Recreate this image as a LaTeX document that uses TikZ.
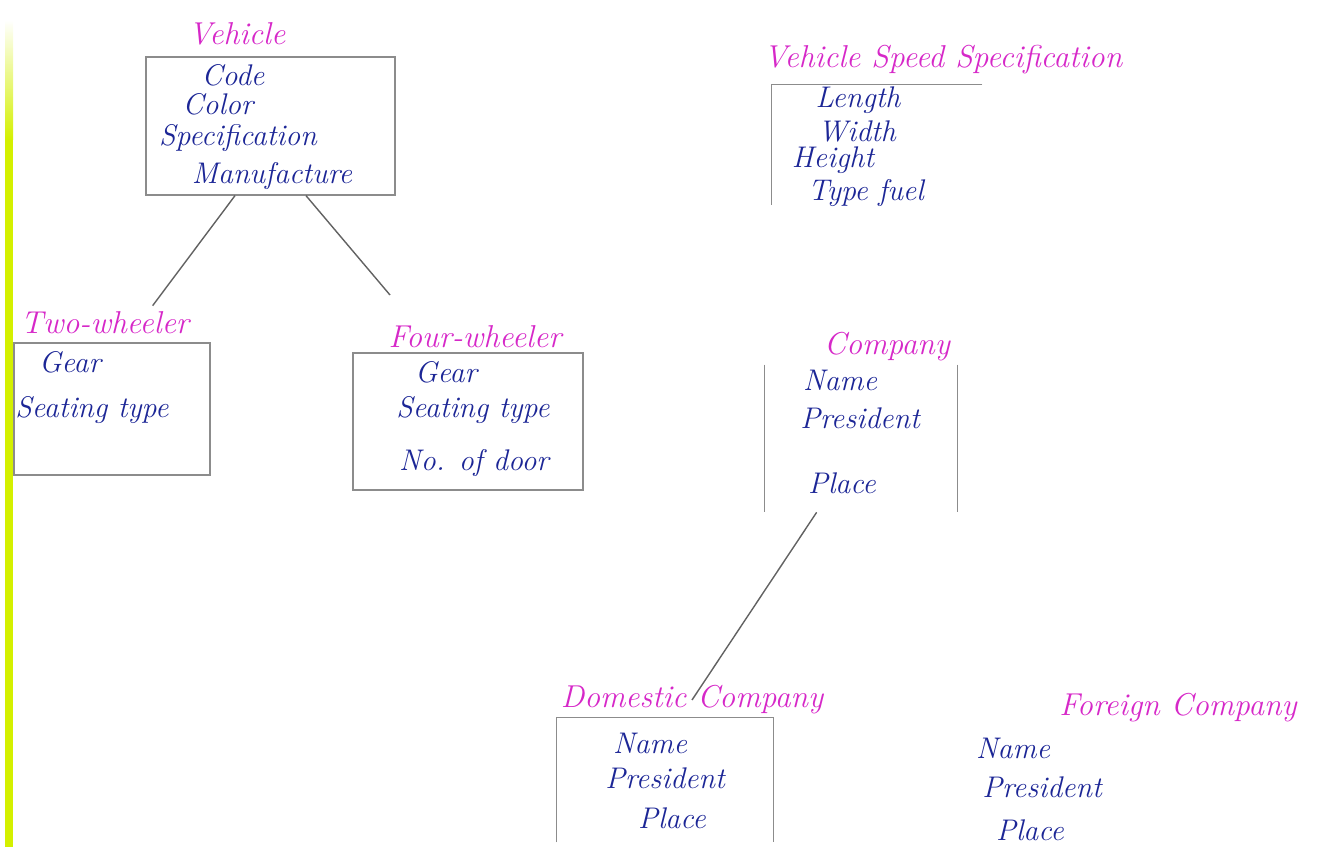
\documentclass[tikz,border=0pt]{standalone}
\usepackage{xcolor}
\definecolor{penpink}{RGB}{214,40,200}
\definecolor{penblue}{RGB}{28,38,150}
\definecolor{pencil}{RGB}{140,140,140}
\definecolor{hilite}{RGB}{212,240,0}
\begin{document}
\begin{tikzpicture}[x=0.02cm, y=-0.02cm, font=\fontsize{17}{19}\selectfont\itshape,
  title/.style={text=penpink, font=\fontsize{18}{20}\selectfont\itshape},
  attr/.style={text=penblue},
  frame/.style={draw=pencil, line width=0.7pt, inner sep=0pt},
  bare/.style={inner sep=0pt},
  edge/.style={draw=pencil!70!black, line width=0.8pt}]
  \useasboundingbox (0,0) rectangle (1322,847);
  % marker stripe on the page edge
  \shade[top color=white, bottom color=hilite] (5,20) rectangle (13,140);
  \fill[hilite] (5,140) rectangle (13,847);

  % Vehicle
  \node[title] (vehT) at (237,34) {Vehicle};
  \node[frame, minimum width=4.98cm, minimum height=2.76cm] (veh) at (270.5,126) {};
  \foreach \n/\x/\y/\t in {1/233/75/Code, 2/218/104/Color,
      3/238/138/Specification, 4/272/176/Manufacture}
    \node[attr] (veh-\n) at (\x,\y) {\t};

  % Two-wheeler
  \node[title] (twoT) at (105,323) {Two-wheeler};
  \node[frame, minimum width=3.92cm, minimum height=2.64cm] (two) at (112,409) {};
  \node[attr] (two-1) at (70,362) {Gear};
  \node[attr] (two-2) at (92,410) {Seating type};

  % Four-wheeler
  \node[title] (fourT) at (475,337) {Four-wheeler};
  \node[frame, minimum width=4.6cm, minimum height=2.74cm] (four) at (468,421.5) {};
  \node[attr] (four-1) at (446,372) {Gear};
  \node[attr] (four-2) at (473,410) {Seating type};
  \node[attr] (four-3) at (474,463) {No. of door};
  \coordinate (fourTip) at (390,295);

  \draw[edge] (veh.243) -- (twoT.20);
  \draw[edge] (veh.297) -- (fourTip);

  % Vehicle Speed Specification
  \node[title] (specT) at (943,60) {Vehicle Speed Specification};
  \node[bare, minimum width=4.2cm, minimum height=2.4cm] (spec) at (877,145) {};
  \draw[frame] (spec.north east) -- (spec.north west) -- (spec.south west);
  \foreach \n/\x/\y/\t in {1/858/100/Length, 2/857/131/Width,
      3/833/160/Height, 4/866/193/Type fuel}
    \node[attr] (spec-\n) at (\x,\y) {\t};

  % Company
  \node[title] (compT) at (887,347) {Company};
  \node[bare, minimum width=3.84cm, minimum height=2.94cm] (comp) at (861,438.5) {};
  \draw[frame] (comp.north west) -- (comp.south west);
  \draw[frame] (comp.north east) -- (comp.south east);
  \foreach \n/\x/\y/\t in {1/840/380/Name, 2/860/418/President, 3/842/483/Place}
    \node[attr] (comp-\n) at (\x,\y) {\t};

  % Domestic Company
  \node[title] (domT) at (692,700) {Domestic Company};
  \node[bare, minimum width=4.32cm, minimum height=2.48cm] (dom) at (665,780) {};
  \draw[frame] (dom.south west) -- (dom.north west) -- (dom.north east) -- (dom.south east);
  \foreach \n/\x/\y/\t in {1/650/743/Name, 2/665/778/President, 3/672/818/Place}
    \node[attr] (dom-\n) at (\x,\y) {\t};

  \draw[edge] (comp.239) -- (domT.center);

  % Foreign Company
  \node[title] (forT) at (1178,708) {Foreign Company};
  \foreach \n/\x/\y/\t in {1/1013/748/Name, 2/1042/787/President, 3/1030/830/Place}
    \node[attr] (for-\n) at (\x,\y) {\t};
\end{tikzpicture}
\end{document}
